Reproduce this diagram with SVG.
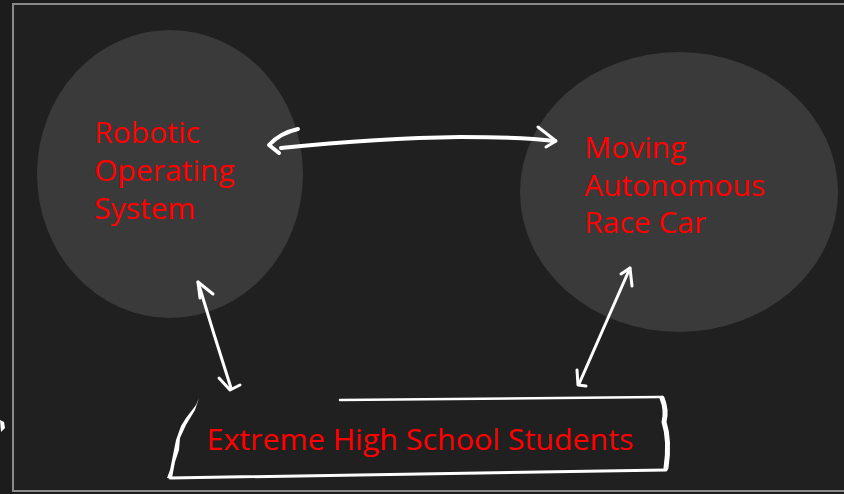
<svg xmlns="http://www.w3.org/2000/svg" width="844" height="494" viewBox="0 0 844 494">
<style>
.lbl{font-family:"Open Sans","Liberation Sans",sans-serif;font-size:30px;font-weight:500;fill:#ff0000;}
.bub{fill:#3a3a3a;}
.chalk{fill:none;stroke:#ffffff;stroke-linecap:round;stroke-linejoin:round;}
</style>
<rect x="0" y="0" width="844" height="494" fill="#1c1c1c"/>
<rect x="13" y="4" width="840" height="487" fill="#202020" stroke="#8a8a8a" stroke-width="2"/>
<g id="node-ros">
<ellipse class="bub" cx="170" cy="174" rx="133" ry="144"/>
<text class="lbl" x="94" y="143">Robotic</text>
<text class="lbl" x="94" y="181">Operating</text>
<text class="lbl" x="94" y="219">System</text>
</g>
<g id="node-car">
<ellipse class="bub" cx="679" cy="192" rx="159" ry="140"/>
<text class="lbl" x="584" y="158">Moving</text>
<text class="lbl" x="584" y="196">Autonomous</text>
<text class="lbl" x="584" y="233">Race Car</text>
</g>
<g id="node-students">
<path class="chalk" stroke-width="2.5" d="M340 400 L660 397"/>
<path class="chalk" stroke-width="5" d="M662 398 Q667 410 664 422 Q670 440 666 468"/>
<path class="chalk" stroke-width="3" d="M666 470 L170 478"/>
<path fill="#ffffff" d="M199 398 L196 405 L186 418 L181 426 L176 440 L173 455 L170 470 L167 478 L172 478 L175 462 L179 450 L180 438 L186 425 L195 410 Z"/>
<text class="lbl" x="420" y="450" text-anchor="middle" textLength="427" lengthAdjust="spacingAndGlyphs">Extreme High School Students</text>
</g>
<g id="connectors">
<path class="chalk" stroke-width="4" d="M281 148 Q380 138 460 137 Q520 137 555 141"/>
<path class="chalk" stroke-width="4" d="M298 129 Q280 133 269 145 L279 153"/>
<path class="chalk" stroke-width="3" d="M538 127 L556 141 L546 147"/>
<path class="chalk" stroke-width="3" d="M198 282 Q214 335 231 388"/>
<path class="chalk" stroke-width="3" d="M213 294 L198 282 L200 298"/>
<path class="chalk" stroke-width="3" d="M219 378 L230 390 L240 385"/>
<path class="chalk" stroke-width="3" d="M630 268 Q605 325 579 384"/>
<path class="chalk" stroke-width="3" d="M621 274 L630 268 L632 286"/>
<path class="chalk" stroke-width="3" d="M577 370 L578 385 L586 386"/>
</g>
<path fill="#ffffff" d="M0 420 L4 422 L5 428 L1 432 Z"/>
</svg>
